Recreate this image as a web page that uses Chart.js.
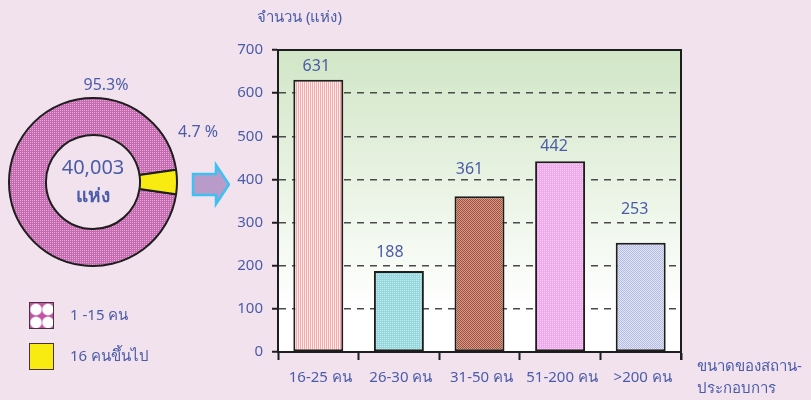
<!DOCTYPE html>
<html lang="th">
<head>
<meta charset="utf-8">
<script src="https://cdn.jsdelivr.net/npm/chart.js@4.4.1/dist/chart.umd.min.js"></script>
<style>
    body {
        margin: 0;
        width: 811px;
        height: 400px;
        background: #f2e2ee;
        overflow: hidden;
        position: relative;
        font-family: 'Noto Sans', 'DejaVu Sans', sans-serif;
        color: #4a5ca8;
    }
    #pieChart { position: absolute; left: 0; top: 60px; }
    #barChart { position: absolute; left: 230px; top: 0; }
    .legend { position: absolute; left: 29px; top: 301px; }
    .legend-item { display: flex; align-items: center; height: 28px; margin-bottom: 13px; font-size: 15px; }
    .swatch { width: 23px; height: 25px; border: 1px solid #4a3040; margin-right: 16px; box-sizing: content-box; }
    .swatch.dots {
        background: radial-gradient(circle, #fff 0 5px, rgba(255,255,255,0) 6.5px) 0 0 / 12px 13px, #c055a5;
    }
</style>
</head>
<body>
<canvas id="pieChart" width="230" height="250"></canvas>
<canvas id="barChart" width="581" height="400"></canvas>
<div class="legend" id="legend"></div>

<script>
// Data
const pieLabels = ['1 -15 คน', '16 คนขึ้นไป'];
const pieShares = [95.3, 4.7];
const pieTotal = '40,003';
const pieUnit = 'แห่ง';

const sizeLabels = ['16-25 คน', '26-30 คน', '31-50 คน', '51-200 คน', '>200 คน'];
const sizeCounts = [631, 188, 361, 442, 253];
const yMax = 700;
const yStep = 100;

const yTitle = 'จำนวน (แห่ง)';
const xTitle = ['ขนาดของสถาน-', 'ประกอบการ'];

const textBlue = '#4a5ca8';
const fontFamily = "'Noto Sans', 'DejaVu Sans', sans-serif";

// small repeating fills
function makePattern(size, bg, cells) {
    const c = document.createElement('canvas');
    c.width = c.height = size;
    const g = c.getContext('2d');
    g.fillStyle = bg;
    g.fillRect(0, 0, size, size);
    cells.forEach(([x, y, col]) => {
        g.fillStyle = col;
        g.fillRect(x, y, 1, 1);
    });
    return g.createPattern(c, 'repeat');
}

const pinkGrid = makePattern(2, '#c46ab0', [[0, 0, '#e6abd8']]);
const barFills = [
    makePattern(2, '#fff0f0', [[0, 0, '#f8a8ab'], [0, 1, '#f8a8ab']]),
    makePattern(2, '#95d7dc', [[0, 0, '#c6ecef']]),
    makePattern(2, '#d49a8a', [[0, 0, '#a4503f'], [1, 1, '#a4503f']]),
    makePattern(2, '#f2a8ea', [[0, 0, '#fad2f5']]),
    makePattern(2, '#e2e6f7', [[0, 0, '#b2badf'], [1, 1, '#b2badf']])
];

// Legend
document.getElementById('legend').innerHTML = pieLabels.map((lab, i) =>
    '<div class="legend-item"><span class="swatch ' + (i === 0 ? 'dots' : '') + '"' +
    (i === 1 ? ' style="background:#f7eb12"' : '') + '></span>' + lab + '</div>'
).join('');

// Doughnut extras: centre text, percentages, arrow
const pieExtras = {
    id: 'pieExtras',
    afterDraw(chart) {
        const ctx = chart.ctx;
        const arc = chart.getDatasetMeta(0).data[0];
        const cx = arc.x, cy = arc.y;
        ctx.save();
        ctx.fillStyle = textBlue;
        ctx.textAlign = 'center';
        ctx.textBaseline = 'middle';
        ctx.font = '20px ' + fontFamily;
        ctx.fillText(pieTotal, cx, cy - 14);
        ctx.font = 'bold 19px ' + fontFamily;
        ctx.fillText(pieUnit, cx, cy + 15);
        ctx.font = '16px ' + fontFamily;
        ctx.fillText(pieShares[0] + '%', cx + 13, cy - 97);
        ctx.fillText(pieShares[1] + ' %', cx + 105, cy - 50);

        // arrow pointing at the bar chart
        ctx.beginPath();
        ctx.moveTo(193, 114);
        ctx.lineTo(216, 114);
        ctx.lineTo(216, 105);
        ctx.lineTo(229, 124.5);
        ctx.lineTo(216, 144);
        ctx.lineTo(216, 135);
        ctx.lineTo(193, 135);
        ctx.closePath();
        ctx.fillStyle = '#b99bc9';
        ctx.fill();
        ctx.lineWidth = 2.5;
        ctx.strokeStyle = '#3cc2f2';
        ctx.stroke();
        ctx.restore();
    }
};

new Chart(document.getElementById('pieChart'), {
    type: 'doughnut',
    data: {
        labels: pieLabels,
        datasets: [{
            data: pieShares,
            backgroundColor: [pinkGrid, '#f7eb12'],
            borderColor: '#1e1e1e',
            borderWidth: 2
        }]
    },
    options: {
        responsive: false,
        animation: false,
        cutout: '56%',
        rotation: 90 + pieShares[1] * 3.6 / 2,
        layout: { padding: { left: 8, right: 52, top: 37, bottom: 43 } },
        plugins: { legend: { display: false }, tooltip: { enabled: false } }
    },
    plugins: [pieExtras]
});

// Bar chart extras: gradient, frame, value labels, titles
const labelLift = [13, 18, 27, 15, 33];
const labelShift = [-2, -9, -10, -6, -6];

const barExtras = {
    id: 'barExtras',
    beforeDraw(chart) {
        const { ctx, chartArea: a } = chart;
        const grad = ctx.createLinearGradient(0, a.top, 0, a.bottom);
        grad.addColorStop(0, '#d1e6c6');
        grad.addColorStop(0.85, '#ffffff');
        grad.addColorStop(1, '#ffffff');
        ctx.save();
        ctx.fillStyle = grad;
        ctx.fillRect(a.left, a.top, a.right - a.left, a.bottom - a.top);
        ctx.restore();
    },
    afterDraw(chart) {
        const { ctx, chartArea: a } = chart;
        ctx.save();
        ctx.strokeStyle = '#1e1e1e';
        ctx.lineWidth = 2;
        ctx.beginPath();
        ctx.moveTo(a.left, a.top);
        ctx.lineTo(a.right, a.top);
        ctx.lineTo(a.right, a.bottom + 8);
        ctx.stroke();

        ctx.fillStyle = textBlue;
        ctx.textAlign = 'center';
        ctx.textBaseline = 'middle';
        ctx.font = '16px ' + fontFamily;
        chart.getDatasetMeta(0).data.forEach((bar, i) => {
            ctx.fillText(String(sizeCounts[i]), bar.x + labelShift[i], bar.y - labelLift[i]);
        });

        ctx.textAlign = 'left';
        ctx.font = '15px ' + fontFamily;
        ctx.fillText(yTitle, 27, 18);
        ctx.fillText(xTitle[0], 467, 367);
        ctx.fillText(xTitle[1], 467, 389);
        ctx.restore();
    }
};

new Chart(document.getElementById('barChart'), {
    type: 'bar',
    data: {
        labels: sizeLabels,
        datasets: [{
            data: sizeCounts,
            backgroundColor: barFills,
            borderColor: '#1e1e1e',
            borderWidth: 2,
            borderSkipped: false,
            barPercentage: 0.62,
            categoryPercentage: 1
        }]
    },
    options: {
        responsive: false,
        animation: false,
        layout: { padding: { left: 0, top: 50, right: 130, bottom: 0 } },
        plugins: { legend: { display: false }, tooltip: { enabled: false } },
        scales: {
            x: {
                grid: {
                    drawOnChartArea: false,
                    tickLength: 8,
                    tickWidth: 2,
                    tickColor: '#1e1e1e'
                },
                border: { color: '#1e1e1e', width: 2 },
                ticks: {
                    color: textBlue,
                    font: { size: 15, family: fontFamily },
                    padding: 9,
                    labelOffset: 2,
                    maxRotation: 0
                },
                afterFit(scale) { scale.height = 48; }
            },
            y: {
                min: 0,
                max: yMax,
                ticks: {
                    stepSize: yStep,
                    color: textBlue,
                    font: { size: 15, family: fontFamily },
                    padding: 9
                },
                grid: {
                    color: '#4a4a4a',
                    lineWidth: 1.5,
                    tickLength: 6,
                    tickWidth: 2,
                    tickColor: '#1e1e1e'
                },
                border: { color: '#1e1e1e', width: 2, dash: [7, 6] },
                afterFit(scale) { scale.width = 48; }
            }
        }
    },
    plugins: [barExtras]
});
</script>
</body>
</html>
